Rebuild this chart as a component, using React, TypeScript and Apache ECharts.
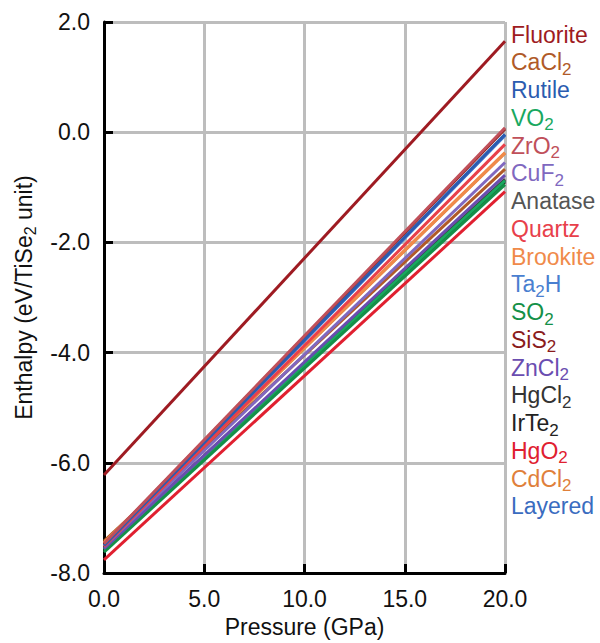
import React, { useEffect, useRef } from "react";
import * as echarts from "echarts";

const pressure = [0, 20];
const phaseNames = [
  "Fluorite", "CaCl2", "Rutile", "VO2", "ZrO2", "CuF2", "Anatase", "Quartz", "Brookite",
  "Ta2H", "SO2", "SiS2", "ZnCl2", "HgCl2", "IrTe2", "HgO2", "CdCl2", "Layered",
];
const legendLabels = [
  "Fluorite", "CaCl{s|2}", "Rutile", "VO{s|2}", "ZrO{s|2}", "CuF{s|2}", "Anatase", "Quartz", "Brookite",
  "Ta{s|2}H", "SO{s|2}", "SiS{s|2}", "ZnCl{s|2}", "HgCl{s|2}", "IrTe{s|2}", "HgO{s|2}", "CdCl{s|2}", "Layered",
];
const phaseColors = [
  "#9e1b22", "#b05a28", "#2b5cb0", "#19a85f", "#c0505a", "#8068c0", "#555555", "#e8404a", "#f08a4a",
  "#4a7fd0", "#149048", "#8a1c1c", "#6a4db0", "#333333", "#222222", "#e02030", "#e0803a", "#3a6cc0",
];
// enthalpy at 0 GPa and 20 GPa
const enthalpyStart = [
  -6.22, -7.42, -7.5, -7.58, -7.47, -7.52, -7.54, -7.52, -7.45,
  -7.51, -7.62, -7.48, -7.56, -7.56, -7.58, -7.76, -7.46, -7.5,
];
const enthalpyEnd = [
  1.65, -0.67, -0.04, -0.88, 0.08, -0.55, -0.85, -0.22, -0.37,
  -0.06, -0.95, 0.06, -0.78, -0.87, -0.9, -1.08, -0.38, -0.05,
];
// drawing order (first drawn = underneath)
const drawOrder = [
  "Anatase", "HgCl2", "IrTe2", "Layered", "Ta2H", "CdCl2", "SiS2", "CaCl2", "VO2", "SO2",
  "ZnCl2", "CuF2", "Brookite", "Quartz", "Rutile", "ZrO2", "HgO2", "Fluorite",
];
const yTicks = { min: -8, max: 2, interval: 2 };
const xTicks = { min: 0, max: 20, interval: 5 };

const FONT = "'Liberation Sans', Arial, sans-serif";

export default function App() {
  const ref = useRef<HTMLDivElement>(null);
  useEffect(() => {
    if (!ref.current) return;
    const chart = echarts.init(ref.current, null, { renderer: "svg" });
    const series = drawOrder.map((name, k) => {
      const i = phaseNames.indexOf(name);
      return {
        type: "line",
        name,
        data: pressure.map((p, j) => [p, j === 0 ? enthalpyStart[i] : enthalpyEnd[i]]),
        showSymbol: false,
        lineStyle: { color: phaseColors[i], width: 3 },
        itemStyle: { color: phaseColors[i] },
        z: 3,
        zlevel: 0,
      };
    });
    const legend = phaseNames.map((_, i) => ({
      type: "text",
      left: 511,
      top: 23 + i * 27.75,
      style: {
        text: legendLabels[i],
        fill: phaseColors[i],
        fontSize: 23,
        fontFamily: FONT,
        rich: { s: { fontSize: 17, fontFamily: FONT, fill: phaseColors[i], padding: [14, 0, 0, 0] } },
      },
    }));
    chart.setOption({
      animation: false,
      backgroundColor: "#ffffff",
      grid: { left: 104, right: 95, top: 22, bottom: 61 },
      xAxis: {
        type: "value",
        min: xTicks.min,
        max: xTicks.max,
        interval: xTicks.interval,
        name: "Pressure (GPa)",
        nameLocation: "middle",
        nameGap: 42,
        nameTextStyle: { fontSize: 23, fontFamily: FONT, color: "#111", verticalAlign: "top" },
        axisLine: { onZero: false, lineStyle: { color: "#000", width: 3 } },
        axisTick: { inside: true, length: 9, lineStyle: { color: "#000", width: 3 } },
        axisLabel: { fontSize: 23, fontFamily: FONT, color: "#111", margin: 14, formatter: (v: number) => v.toFixed(1) },
        splitLine: { show: true, lineStyle: { color: "#bdbdbd", width: 3 } },
      },
      yAxis: {
        type: "value",
        min: yTicks.min,
        max: yTicks.max,
        interval: yTicks.interval,
        name: "Enthalpy (eV/TiSe{sub|2} unit)",
        nameLocation: "middle",
        nameGap: 66,
        nameTextStyle: {
          fontSize: 23,
          fontFamily: FONT,
          color: "#111",
          rich: { sub: { fontSize: 16, fontFamily: FONT, color: "#111", padding: [12, 0, 0, 0] } },
        },
        axisLine: { onZero: false, lineStyle: { color: "#000", width: 3 } },
        axisTick: { inside: true, length: 9, lineStyle: { color: "#000", width: 3 } },
        axisLabel: { fontSize: 23, fontFamily: FONT, color: "#111", margin: 14, formatter: (v: number) => v.toFixed(1) },
        splitLine: { show: true, lineStyle: { color: "#bdbdbd", width: 3 } },
      },
      graphic: legend,
      series,
    });
    return () => chart.dispose();
  }, []);
  return <div ref={ref} style={{ position: "fixed", left: 0, top: 0, width: 600, height: 643 }} />;
}
